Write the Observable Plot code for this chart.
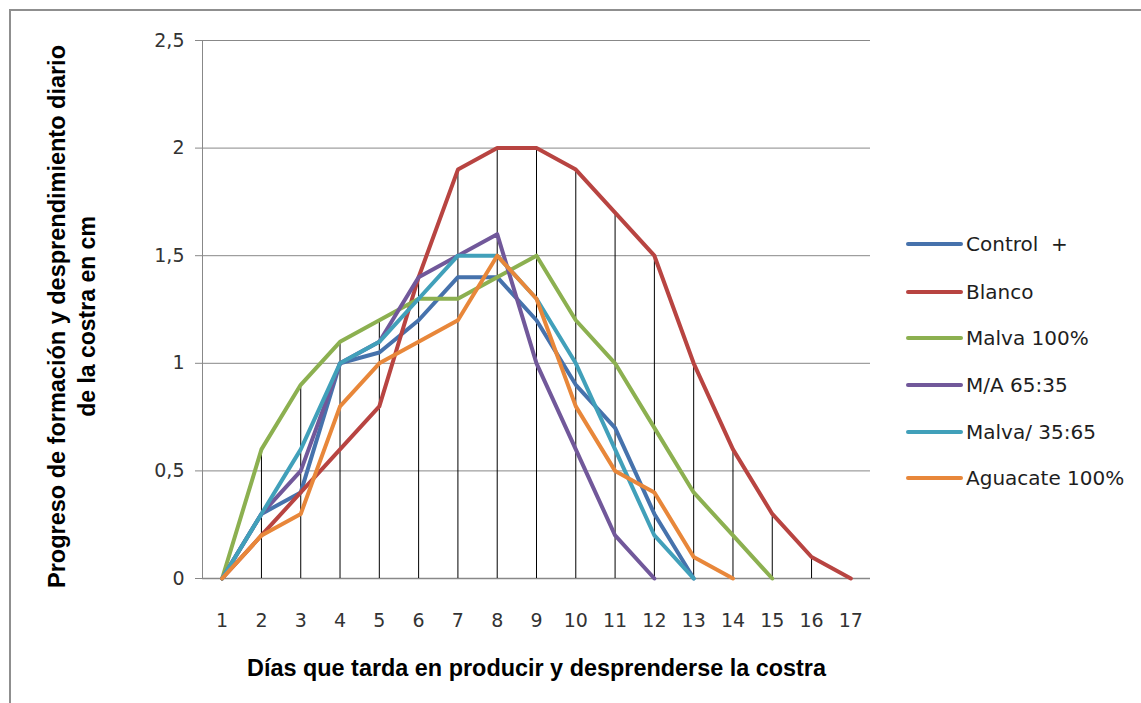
<!DOCTYPE html>
<html><head><meta charset="utf-8">
<script src="https://cdn.jsdelivr.net/npm/d3@7"></script>
<script src="https://cdn.jsdelivr.net/npm/@observablehq/plot@0.6"></script>
<style>
body{margin:0;width:1141px;height:703px;overflow:hidden;background:#fff;position:relative;}
#chart{position:absolute;left:0;top:0;}
#legend{position:absolute;left:0;top:0;width:1141px;height:703px;}
.entry{position:absolute;left:906px;height:26px;display:flex;align-items:center;font-family:"DejaVu Sans";font-size:20px;color:#1e1e1e;white-space:pre;}
.entry svg{display:block;}
#frame{position:absolute;left:9px;top:9px;width:1200px;height:800px;border:2px solid #8f8f8f;pointer-events:none;}
</style></head><body>
<div id="chart"></div>
<div id="legend"></div>
<div id="frame"></div>
<script>
// ---- data ----
const days = [1,2,3,4,5,6,7,8,9,10,11,12,13,14,15,16,17];
const seriesNames = ["Control  +", "Blanco", "Malva 100%", "M/A 65:35", "Malva/ 35:65", "Aguacate 100%"];
const seriesColors = ["#4672AC", "#B84441", "#8CB050", "#71589A", "#41A0BA", "#E8873A"];
const controlPlus = [0, 0.3, 0.4, 1.0, 1.05, 1.2, 1.4, 1.4, 1.2, 0.9, 0.7, 0.3, 0];
const blanco      = [0, 0.2, 0.4, 0.6, 0.8, 1.4, 1.9, 2.0, 2.0, 1.9, 1.7, 1.5, 1.0, 0.6, 0.3, 0.1, 0];
const malva100    = [0, 0.6, 0.9, 1.1, 1.2, 1.3, 1.3, 1.4, 1.5, 1.2, 1.0, 0.7, 0.4, 0.2, 0];
const ma6535      = [0, 0.3, 0.5, 1.0, 1.1, 1.4, 1.5, 1.6, 1.0, 0.6, 0.2, 0];
const malva3565   = [0, 0.3, 0.6, 1.0, 1.1, 1.3, 1.5, 1.5, 1.3, 1.0, 0.6, 0.2, 0];
const aguacate100 = [0, 0.2, 0.3, 0.8, 1.0, 1.1, 1.2, 1.5, 1.3, 0.8, 0.5, 0.4, 0.1, 0];
const yTicks = [0, 0.5, 1, 1.5, 2, 2.5];
const xTitle = "Días que tarda en producir y desprenderse la costra";
const yTitle1 = "Progreso de formación y desprendimiento diario";
const yTitle2 = "de la costra en cm";

// ---- tables ----
const seriesValues = [controlPlus, blanco, malva100, ma6535, malva3565, aguacate100];
const rows = [];
seriesValues.forEach((vals, i) => vals.forEach((v, j) => rows.push({series: seriesNames[i], day: days[j], value: v})));
const drops = days.map(d => ({day: d, max: d3.max(rows.filter(r => r.day === d), r => r.value)}));

const fmt = d => String(d).replace(".", ",");

const plot = Plot.plot({
  width: 1141,
  height: 703,
  marginLeft: 202,
  marginRight: 271,
  marginTop: 40,
  marginBottom: 125,
  style: {fontFamily: "DejaVu Sans", fontSize: "19px", color: "#333", background: "transparent"},
  x: {type: "linear", domain: [0.5, 17.5]},
  y: {domain: [0, 2.5]},
  color: {domain: seriesNames, range: seriesColors},
  marks: [
    Plot.gridY(yTicks, {stroke: "#888", strokeOpacity: 1, strokeWidth: 1}),
    Plot.ruleX([0.5], {stroke: "#888", strokeWidth: 1}),
    Plot.ruleY([0], {stroke: "#888", strokeWidth: 1.5}),
    Plot.axisY(yTicks, {tickFormat: fmt, tickSize: 7, tickPadding: 11, stroke: "#888", fill: "#333", fontSize: 19, label: null}),
    Plot.axisX(days, {tickSize: 0, tickPadding: 35, fill: "#333", fontSize: 19, label: null, tickFormat: d => String(d)}),
    Plot.ruleX(drops, {x: "day", y1: 0, y2: "max", stroke: "#000", strokeWidth: 1}),
    Plot.line(rows, {x: "day", y: "value", z: "series", stroke: "series", strokeWidth: 4, strokeLinejoin: "round", strokeLinecap: "round"}),
    Plot.text([xTitle], {frameAnchor: "bottom", dy: 90, lineAnchor: "middle", text: d => d, fontFamily: "Liberation Sans", fontWeight: "bold", fontSize: 23, fill: "#000"}),
    Plot.text([yTitle1], {frameAnchor: "left", dx: -145, dy: 7, rotate: -90, textAnchor: "middle", lineAnchor: "middle", text: d => d, fontFamily: "Liberation Sans", fontWeight: "bold", fontSize: 23, fill: "#000"}),
    Plot.text([yTitle2], {frameAnchor: "left", dx: -115, dy: 7, rotate: -90, textAnchor: "middle", lineAnchor: "middle", text: d => d, fontFamily: "Liberation Sans", fontWeight: "bold", fontSize: 23, fill: "#000"})
  ]
});
document.getElementById("chart").appendChild(plot);

d3.select(plot).selectAll("text").each(function() {
  const t = this.textContent;
  if (t === xTitle) d3.select(this).attr("textLength", 579).attr("lengthAdjust", "spacingAndGlyphs");
  if (t === yTitle1) d3.select(this).attr("textLength", 543).attr("lengthAdjust", "spacingAndGlyphs");
});

// ---- legend ----
const legendY = [244, 291.5, 338, 385, 431.5, 478];
const legend = document.getElementById("legend");
seriesNames.forEach((name, i) => {
  const div = document.createElement("div");
  div.className = "entry";
  div.style.top = (legendY[i] - 13) + "px";
  div.innerHTML = `<svg width="58" height="26"><line x1="2" y1="13" x2="55" y2="13" stroke="${seriesColors[i]}" stroke-width="4" stroke-linecap="round"/></svg><span style="margin-left:2px"></span>`;
  div.querySelector("span").textContent = name;
  legend.appendChild(div);
});
</script>
</body></html>
